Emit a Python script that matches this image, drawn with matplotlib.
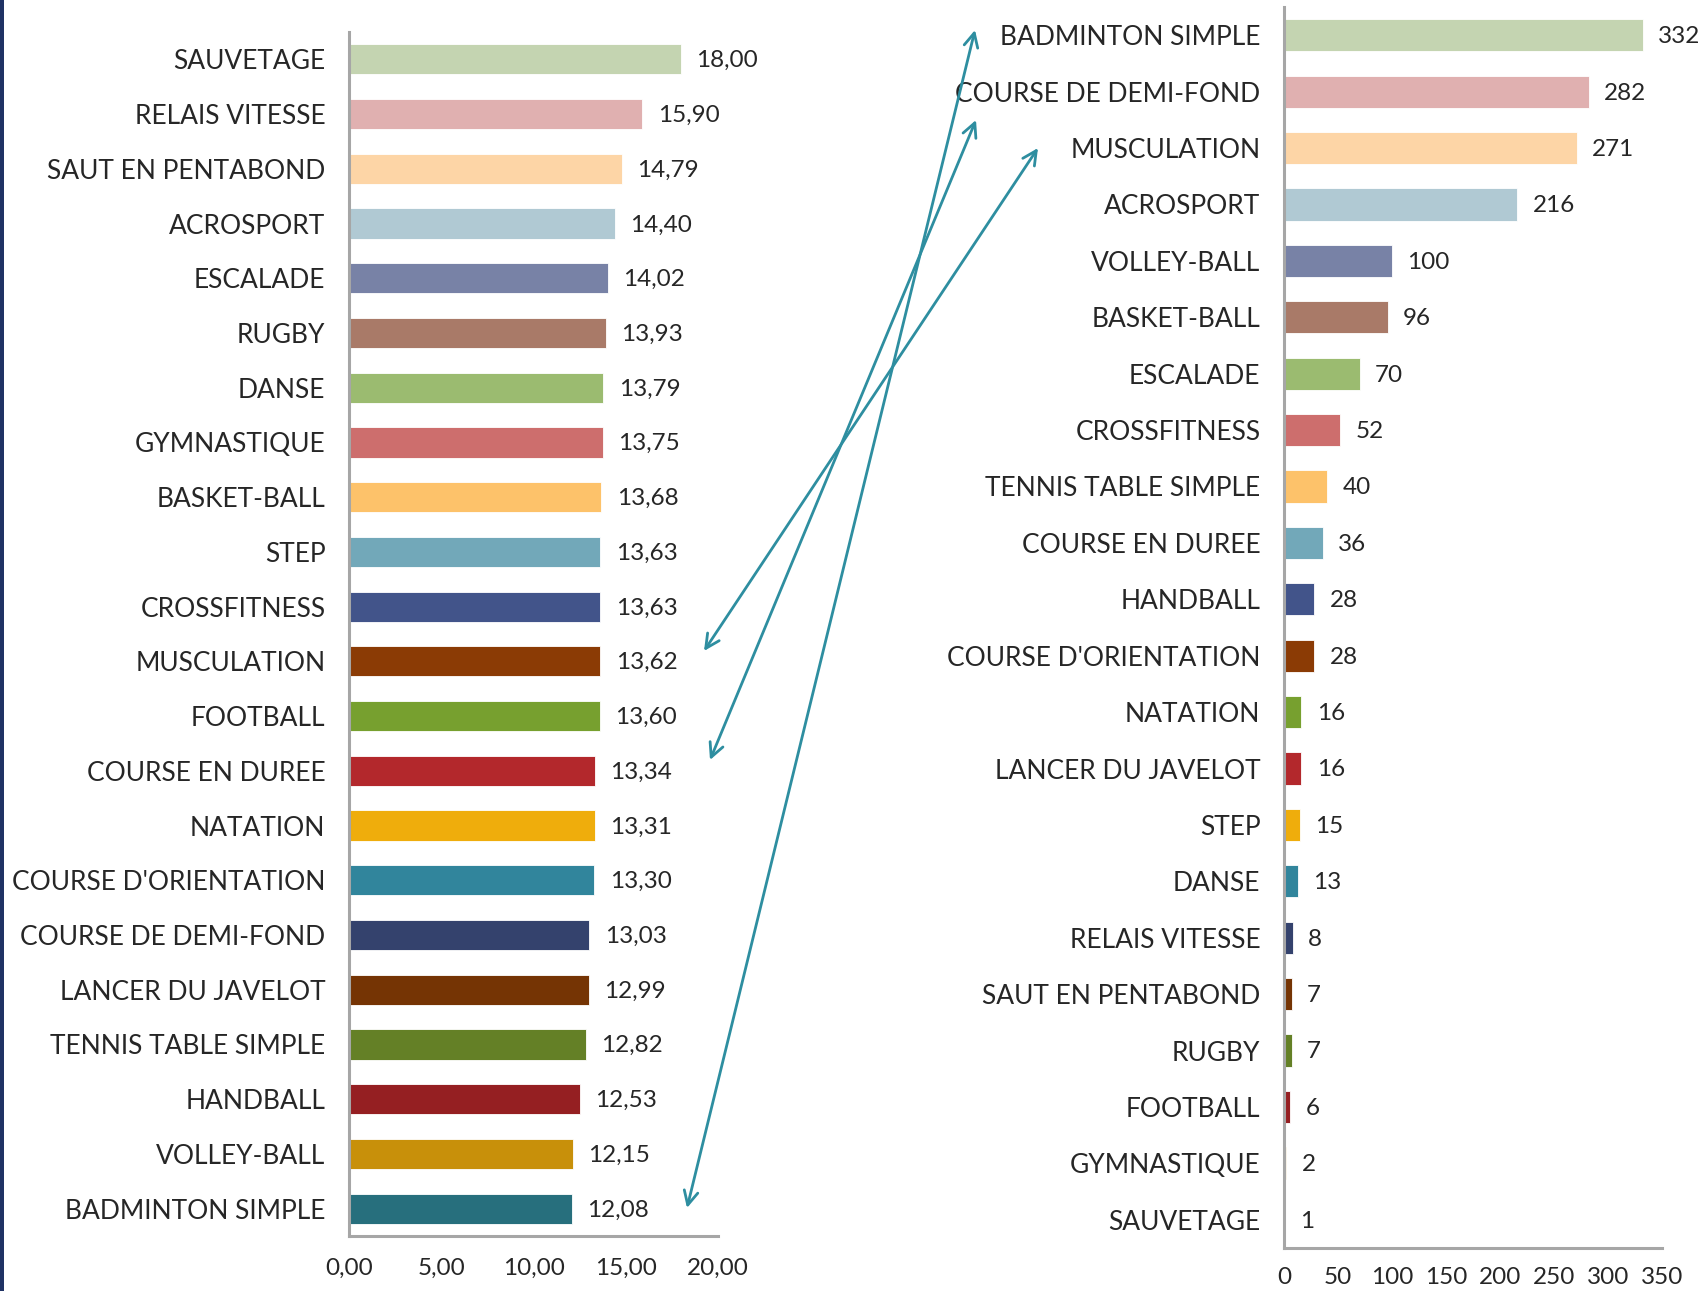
import matplotlib
matplotlib.use("Agg")
import matplotlib.pyplot as plt
from matplotlib.patches import Rectangle, FancyArrowPatch

plt.rcParams['font.family'] = ['Lato', 'DejaVu Sans']

# ---- data: left chart (average mark) ----
left_cats = ["SAUVETAGE", "RELAIS VITESSE", "SAUT EN PENTABOND", "ACROSPORT", "ESCALADE",
             "RUGBY", "DANSE", "GYMNASTIQUE", "BASKET-BALL", "STEP", "CROSSFITNESS",
             "MUSCULATION", "FOOTBALL", "COURSE EN DUREE", "NATATION",
             "COURSE D'ORIENTATION", "COURSE DE DEMI-FOND", "LANCER DU JAVELOT",
             "TENNIS TABLE SIMPLE", "HANDBALL", "VOLLEY-BALL", "BADMINTON SIMPLE"]
left_vals = [18.00, 15.90, 14.79, 14.40, 14.02, 13.93, 13.79, 13.75, 13.68, 13.63, 13.63,
             13.62, 13.60, 13.34, 13.31, 13.30, 13.03, 12.99, 12.82, 12.53, 12.15, 12.08]
left_ticks = [0, 5, 10, 15, 20]

# ---- data: right chart (counts) ----
right_cats = ["BADMINTON SIMPLE", "COURSE DE DEMI-FOND", "MUSCULATION", "ACROSPORT",
              "VOLLEY-BALL", "BASKET-BALL", "ESCALADE", "CROSSFITNESS",
              "TENNIS TABLE SIMPLE", "COURSE EN DUREE", "HANDBALL",
              "COURSE D'ORIENTATION", "NATATION", "LANCER DU JAVELOT", "STEP", "DANSE",
              "RELAIS VITESSE", "SAUT EN PENTABOND", "RUGBY", "FOOTBALL", "GYMNASTIQUE",
              "SAUVETAGE"]
right_vals = [332, 282, 271, 216, 100, 96, 70, 52, 40, 36, 28, 28, 16, 16, 15, 13, 8, 7, 7,
              6, 2, 1]
right_ticks = [0, 50, 100, 150, 200, 250, 300, 350]

colors = ["#c4d4b1", "#e0b0b0", "#fdd5a6", "#b0c9d3", "#7882a6", "#a97a68", "#9bbb70",
          "#cd6e6d", "#fdc26a", "#72a8b9", "#42548a", "#8b3b05", "#77a02f", "#b3282c",
          "#efad0c", "#31859c", "#34426d", "#753404", "#648026", "#951f22", "#c8900a",
          "#276f7d"]

W, H = 1707, 1291
fig = plt.figure(figsize=(W / 100, H / 100), dpi=100)
fig.patch.set_facecolor("white")

TXT = "#262626"
AX = "#a6a6a6"
FS = 17.5
FS_CAT = 19


def fr(x0, top, x1, bottom):
    return [x0 / W, 1 - bottom / H, (x1 - x0) / W, (bottom - top) / H]


def style(ax, xmax, ticks, fmt, pad_x):
    for s in ["top", "right"]:
        ax.spines[s].set_visible(False)
    for s in ["left", "bottom"]:
        ax.spines[s].set_color(AX)
        ax.spines[s].set_linewidth(2.2)
    ax.set_xlim(0, xmax)
    ax.set_xticks(ticks)
    ax.set_xticklabels([fmt(t) for t in ticks])
    ax.tick_params(axis="both", length=0, labelcolor=TXT)
    ax.tick_params(axis="x", labelsize=FS, pad=pad_x)
    ax.tick_params(axis="y", labelsize=FS_CAT, pad=17)


# left chart
axL = fig.add_axes(fr(349, 32, 718, 1236))
yl = list(range(len(left_cats)))
axL.barh(yl, left_vals, height=0.55, color=colors, edgecolor="white", linewidth=0.6)
axL.set_yticks(yl)
axL.set_yticklabels(left_cats)
axL.set_ylim(len(left_cats) - 0.5, -0.5)
style(axL, 20, left_ticks, lambda t: f"{t:.2f}".replace(".", ","), 16)
for y, v in zip(yl, left_vals):
    axL.annotate(f"{v:.2f}".replace(".", ","), (v, y), xytext=(11, -1),
                 textcoords="offset points", va="center", ha="left",
                 fontsize=FS, color=TXT)

# right chart
axR = fig.add_axes(fr(1284, 7, 1662, 1248))
yr = list(range(len(right_cats)))
axR.barh(yr, right_vals, height=0.57, color=colors, edgecolor="white", linewidth=0.6)
axR.set_yticks(yr)
axR.set_yticklabels(right_cats)
axR.set_ylim(len(right_cats) - 0.5, -0.5)
style(axR, 350, right_ticks, lambda t: f"{t:d}", 14)
for y, v in zip(yr, right_vals):
    axR.annotate(f"{v:d}", (v, y), xytext=(11, -1), textcoords="offset points",
                 va="center", ha="left", fontsize=FS, color=TXT)

# thin dark strip on left edge
fig.add_artist(Rectangle((0, 0), 4 / W, 1, transform=fig.transFigure,
                         facecolor="#1f3264", edgecolor="none"))

# connecting double arrows (figure pixel positions, y from top)
arrow_pairs = [((975, 30), (687, 1208)),
               ((976, 120), (710, 760)),
               ((1038, 148), (704, 651))]
for (xa, ya), (xb, yb) in arrow_pairs:
    fig.add_artist(FancyArrowPatch((xa / W, 1 - ya / H), (xb / W, 1 - yb / H),
                                   transform=fig.transFigure,
                                   arrowstyle="<->,head_length=10,head_width=5",
                                   color="#2e8ea0", linewidth=2.0,
                                   shrinkA=0, shrinkB=0))

fig.savefig("out.png", dpi=100)
